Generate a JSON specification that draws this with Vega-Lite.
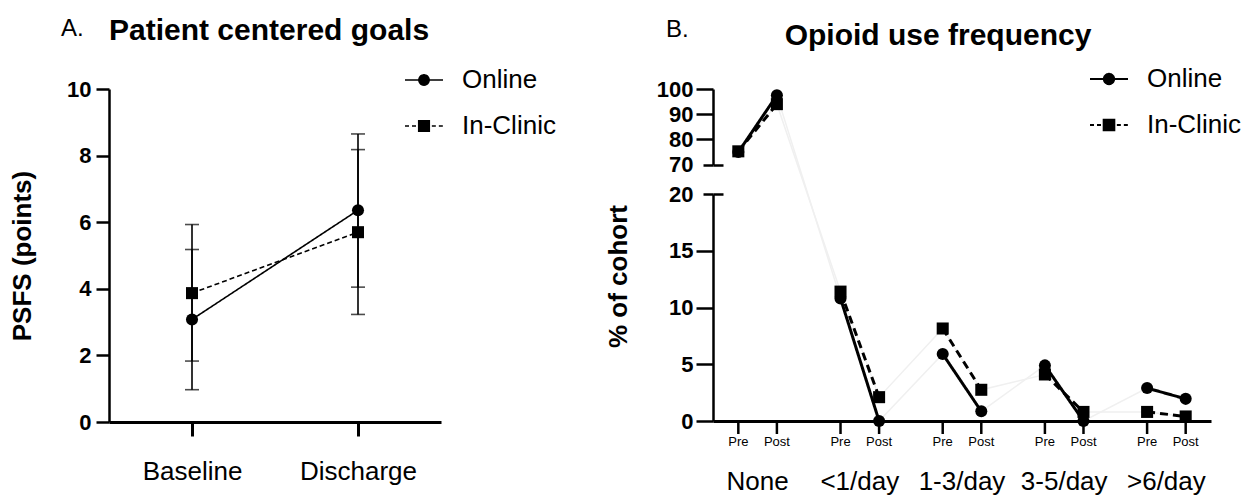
{
  "$schema": "https://vega.github.io/schema/vega-lite/v6.json",
  "padding": {"left": 9, "top": 16, "right": 5, "bottom": 2},
  "config": {
    "font": "Liberation Sans",
    "view": {"stroke": null},
    "axis": {"labelColor": "black", "tickColor": "black", "domainColor": "black", "titleColor": "black", "grid": false, "labelFlush": false, "labelOverlap": false},
    "legend": {"labelColor": "black", "labelFont": "Liberation Sans"},
    "title": {"color": "black"}
  },
  "datasets": {
    "psfs": [
      {"time": "Baseline", "series": "Online", "mean": 3.08, "lo": 0.97, "hi": 5.18},
      {"time": "Discharge", "series": "Online", "mean": 6.36, "lo": 4.05, "hi": 8.65},
      {"time": "Baseline", "series": "In-Clinic", "mean": 3.87, "lo": 1.83, "hi": 5.93},
      {"time": "Discharge", "series": "In-Clinic", "mean": 5.7, "lo": 3.23, "hi": 8.18}
    ],
    "opioid": [
      {"series": "Online", "freq": "None", "time": "Pre", "pct": 75},
      {"series": "Online", "freq": "None", "time": "Post", "pct": 97.5},
      {"series": "Online", "freq": "<1/day", "time": "Pre", "pct": 10.8},
      {"series": "Online", "freq": "<1/day", "time": "Post", "pct": 0},
      {"series": "Online", "freq": "1-3/day", "time": "Pre", "pct": 5.9},
      {"series": "Online", "freq": "1-3/day", "time": "Post", "pct": 0.85},
      {"series": "Online", "freq": "3-5/day", "time": "Pre", "pct": 4.9},
      {"series": "Online", "freq": "3-5/day", "time": "Post", "pct": 0},
      {"series": "Online", "freq": ">6/day", "time": "Pre", "pct": 2.9},
      {"series": "Online", "freq": ">6/day", "time": "Post", "pct": 1.95},
      {"series": "In-Clinic", "freq": "None", "time": "Pre", "pct": 75.3},
      {"series": "In-Clinic", "freq": "None", "time": "Post", "pct": 94},
      {"series": "In-Clinic", "freq": "<1/day", "time": "Pre", "pct": 11.4},
      {"series": "In-Clinic", "freq": "<1/day", "time": "Post", "pct": 2.1},
      {"series": "In-Clinic", "freq": "1-3/day", "time": "Pre", "pct": 8.15},
      {"series": "In-Clinic", "freq": "1-3/day", "time": "Post", "pct": 2.75},
      {"series": "In-Clinic", "freq": "3-5/day", "time": "Pre", "pct": 4.1},
      {"series": "In-Clinic", "freq": "3-5/day", "time": "Post", "pct": 0.8},
      {"series": "In-Clinic", "freq": ">6/day", "time": "Pre", "pct": 0.8},
      {"series": "In-Clinic", "freq": ">6/day", "time": "Post", "pct": 0.4}
    ]
  },
  "spacing": 49,
  "hconcat": [
    {
      "title": {"text": "A.", "anchor": "start", "frame": "group", "fontSize": 24, "fontWeight": "normal", "offset": -25, "dx": -48},
      "vconcat": [
        {
          "width": 332,
          "height": 333,
          "title": {"text": "Patient centered goals", "anchor": "start", "frame": "group", "fontSize": 30, "fontWeight": "bold", "offset": 14},
          "data": {"name": "psfs"},
          "encoding": {
            "x": {"field": "time", "type": "nominal", "sort": ["Baseline", "Discharge"], "scale": {"type": "point", "padding": 0.5},
              "axis": {"title": null, "labelAngle": 0, "labelFontSize": 26, "labelPadding": 22, "tickSize": 14, "tickWidth": 3, "domainWidth": 3}}
          },
          "layer": [
            {"mark": {"type": "rule", "color": "black", "strokeWidth": 1.6},
              "encoding": {
                "y": {"field": "lo", "type": "quantitative", "title": "PSFS (points)", "scale": {"domain": [0, 10], "nice": false, "zero": false},
                  "axis": {"values": [0, 2, 4, 6, 8, 10], "labelFontSize": 22, "labelFontWeight": "bold", "labelPadding": 5, "tickSize": 13, "tickWidth": 2.5, "domainWidth": 2.5, "titleFontSize": 26, "titleFontWeight": "bold", "titlePadding": 31}},
                "y2": {"field": "hi"}
              }},
            {"mark": {"type": "tick", "color": "black", "size": 14, "thickness": 1.6},
              "encoding": {"y": {"field": "lo", "type": "quantitative", "title": "PSFS (points)"}}},
            {"mark": {"type": "tick", "color": "black", "size": 14, "thickness": 1.6},
              "encoding": {"y": {"field": "hi", "type": "quantitative", "title": "PSFS (points)"}}},
            {"mark": {"type": "line", "color": "black", "strokeWidth": 1.6},
              "encoding": {
                "y": {"field": "mean", "type": "quantitative", "title": "PSFS (points)"},
                "detail": {"field": "series"},
                "strokeDash": {"field": "series", "type": "nominal", "scale": {"domain": ["Online", "In-Clinic"], "range": [[1, 0], [5, 3]]}, "legend": null}
              }},
            {"mark": {"type": "point", "filled": true, "color": "black", "opacity": 1, "size": 145},
              "encoding": {
                "y": {"field": "mean", "type": "quantitative", "title": "PSFS (points)"},
                "shape": {"field": "series", "type": "nominal", "scale": {"domain": ["Online", "In-Clinic"], "range": ["circle", "square"]}, "legend": null}
              }},
            {"transform": [{"filter": "false"}],
              "mark": {"type": "point", "filled": true, "color": "black"},
              "encoding": {
                "shape": {"field": "series", "type": "nominal",
                  "scale": {"domain": ["Online", "In-Clinic"], "range": ["M-1,0L1,0M-0.27,0A0.27,0.27,0,1,1,0.27,0A0.27,0.27,0,1,1,-0.27,0Z", "M-1,0L-0.28,0L-0.28,-0.28L0.28,-0.28L0.28,0.28L-0.28,0.28L-0.28,0L1,0"]},
                  "legend": {"title": null, "orient": "none", "legendX": 295, "legendY": -29, "padding": 0, "labelFontSize": 26, "symbolSize": 1444, "symbolOpacity": 1, "rowPadding": 13, "labelOffset": 18,
                    "encoding": {"symbols": {"stroke": {"value": "black"}, "strokeWidth": {"value": 1.5}, "fill": {"value": "black"}, "opacity": {"value": 1}}}}},
                "strokeDash": {"field": "series", "type": "nominal",
                  "scale": {"domain": ["Online", "In-Clinic"], "range": [[1, 0], [4, 3, 4, 2.7, 53, 2.7, 4, 3, 4, 10]]},
                  "legend": {"title": null, "orient": "none", "legendX": 295, "legendY": -29, "padding": 0, "labelFontSize": 26, "symbolSize": 1444, "symbolOpacity": 1, "rowPadding": 13, "labelOffset": 18,
                    "encoding": {"symbols": {"stroke": {"value": "black"}, "strokeWidth": {"value": 1.5}, "fill": {"value": "black"}, "opacity": {"value": 1}}}}}
              }}
          ],
          "resolve": {"scale": {"shape": "independent", "strokeDash": "independent"}}
        }
      ]
    },
    {
      "title": {"text": "B.", "anchor": "start", "frame": "group", "fontSize": 24, "fontWeight": "normal", "offset": -21, "dx": -47},
      "vconcat": [
        {
          "width": 498,
          "height": 332,
          "title": {"text": "Opioid use frequency", "anchor": "middle", "frame": "group", "dx": -24, "fontSize": 30, "fontWeight": "bold", "offset": 8},
          "data": {"name": "opioid"},
          "encoding": {
            "x": {"field": "freq", "type": "nominal", "sort": ["None", "<1/day", "1-3/day", "3-5/day", ">6/day"],
              "scale": {"type": "band", "paddingInner": 0.245, "paddingOuter": 0.059},
              "axis": {"title": null, "labelAngle": 0, "labelFontSize": 26, "labelPadding": 47, "ticks": false, "domainWidth": 3}},
            "xOffset": {"field": "time", "type": "nominal", "sort": ["Pre", "Post"], "scale": {"paddingInner": 0, "paddingOuter": 0}}
          },
          "layer": [
            {"mark": {"type": "line", "color": "#f0f0f0", "strokeWidth": 1.5},
              "encoding": {
                "y": {"field": "pct", "type": "quantitative", "scale": {"domain": [0, 20, 70, 100], "range": [332, 105, 75.7, 0], "nice": false, "zero": false},
                  "axis": {"orient": "left", "values": [20, 70], "labels": false, "domain": false, "tickSize": -10, "tickWidth": 2.5, "title": null}},
                "detail": {"field": "series"},
                "order": {"value": null}
              }},
            {"transform": [{"filter": "datum.freq === 'None'"}],
              "encoding": {
                "y": {"field": "pct", "type": "quantitative", "scale": {"domain": [70, 100], "range": [75.7, 0], "nice": false, "zero": false},
                  "axis": {"orient": "left", "values": [70, 80, 90, 100], "labelFontSize": 22, "labelFontWeight": "bold", "labelPadding": 3, "tickSize": 17, "tickWidth": 2.5, "domainWidth": 2.5, "title": null,
                    "tickOpacity": {"condition": {"test": "datum.value === 70", "value": 0}, "value": 1}}}
              },
              "layer": [
                {"mark": {"type": "line", "color": "black", "strokeWidth": 3},
                  "encoding": {
                    "detail": {"field": "series"},
                    "order": {"value": null},
                    "strokeDash": {"field": "series", "type": "nominal", "scale": {"domain": ["Online", "In-Clinic"], "range": [[1, 0], [8, 5]]}, "legend": null}
                  }},
                {"mark": {"type": "point", "filled": true, "color": "black", "opacity": 1, "size": 145},
                  "encoding": {
                    "shape": {"field": "series", "type": "nominal", "scale": {"domain": ["Online", "In-Clinic"], "range": ["circle", "square"]}, "legend": null}
                  }}
              ]},
            {"encoding": {
                "y": {"field": "pct", "type": "quantitative", "scale": {"domain": [0, 20], "range": [332, 105], "nice": false, "zero": false},
                  "axis": {"orient": "left", "values": [0, 5, 10, 15, 20], "labelFontSize": 22, "labelFontWeight": "bold", "labelPadding": 3, "tickSize": 17, "tickWidth": 2.5, "domainWidth": 2.5, "title": "% of cohort", "titleFontSize": 26, "titleFontWeight": "bold", "titleX": -82, "titleY": 187,
                    "tickOpacity": {"condition": {"test": "datum.value === 20", "value": 0}, "value": 1}}}
              },
              "layer": [
                {"transform": [{"filter": "datum.freq !== 'None'"}],
                  "mark": {"type": "line", "color": "black", "strokeWidth": 3},
                  "encoding": {
                    "detail": [{"field": "series"}, {"field": "freq"}],
                    "order": {"value": null},
                    "strokeDash": {"field": "series", "type": "nominal", "scale": {"domain": ["Online", "In-Clinic"], "range": [[1, 0], [8, 5]]}, "legend": null}
                  }},
                {"transform": [{"filter": "datum.freq !== 'None'"}],
                  "mark": {"type": "point", "filled": true, "color": "black", "opacity": 1, "size": 145},
                  "encoding": {
                    "shape": {"field": "series", "type": "nominal", "scale": {"domain": ["Online", "In-Clinic"], "range": ["circle", "square"]}, "legend": null}
                  }},
                {"transform": [{"filter": "datum.series === 'Online'"}],
                  "mark": {"type": "rule", "color": "black", "strokeWidth": 2.5, "y2Offset": 13},
                  "encoding": {"y": {"datum": 0}, "y2": {"datum": 0}}},
                {"transform": [{"filter": "datum.series === 'Online'"}],
                  "mark": {"type": "text", "color": "black", "fontSize": 13, "dy": 21},
                  "encoding": {"y": {"datum": 0}, "text": {"field": "time"}}}
              ]},
            {"transform": [{"filter": "false"}],
              "mark": {"type": "point", "filled": true, "color": "black"},
              "encoding": {
                "y": {"field": "pct", "type": "quantitative", "scale": {"domain": [0, 20, 70, 100], "range": [332, 105, 75.7, 0], "nice": false, "zero": false},
                  "axis": {"orient": "left", "values": [20, 70], "labels": false, "domain": false, "tickSize": 10, "tickWidth": 2.5, "title": null}},
                "shape": {"field": "series", "type": "nominal",
                  "scale": {"domain": ["Online", "In-Clinic"], "range": ["M-1,0L1,0M-0.27,0A0.27,0.27,0,1,1,0.27,0A0.27,0.27,0,1,1,-0.27,0Z", "M-1,0L-0.28,0L-0.28,-0.28L0.28,-0.28L0.28,0.28L-0.28,0.28L-0.28,0L1,0"]},
                  "legend": {"title": null, "orient": "none", "legendX": 376, "legendY": -30, "padding": 0, "labelFontSize": 26, "symbolSize": 1444, "symbolOpacity": 1, "rowPadding": 13, "labelOffset": 18,
                    "encoding": {"symbols": {"stroke": {"value": "black"}, "strokeWidth": {"value": 2}, "fill": {"value": "black"}, "opacity": {"value": 1}}}}},
                "strokeDash": {"field": "series", "type": "nominal",
                  "scale": {"domain": ["Online", "In-Clinic"], "range": [[1, 0], [4, 3, 4, 2.7, 53, 2.7, 4, 3, 4, 10]]},
                  "legend": {"title": null, "orient": "none", "legendX": 376, "legendY": -30, "padding": 0, "labelFontSize": 26, "symbolSize": 1444, "symbolOpacity": 1, "rowPadding": 13, "labelOffset": 18,
                    "encoding": {"symbols": {"stroke": {"value": "black"}, "strokeWidth": {"value": 2}, "fill": {"value": "black"}, "opacity": {"value": 1}}}}}
              }}
          ],
          "resolve": {"scale": {"y": "independent", "shape": "independent", "strokeDash": "independent"}, "axis": {"y": "independent"}}
        }
      ]
    }
  ]
}
